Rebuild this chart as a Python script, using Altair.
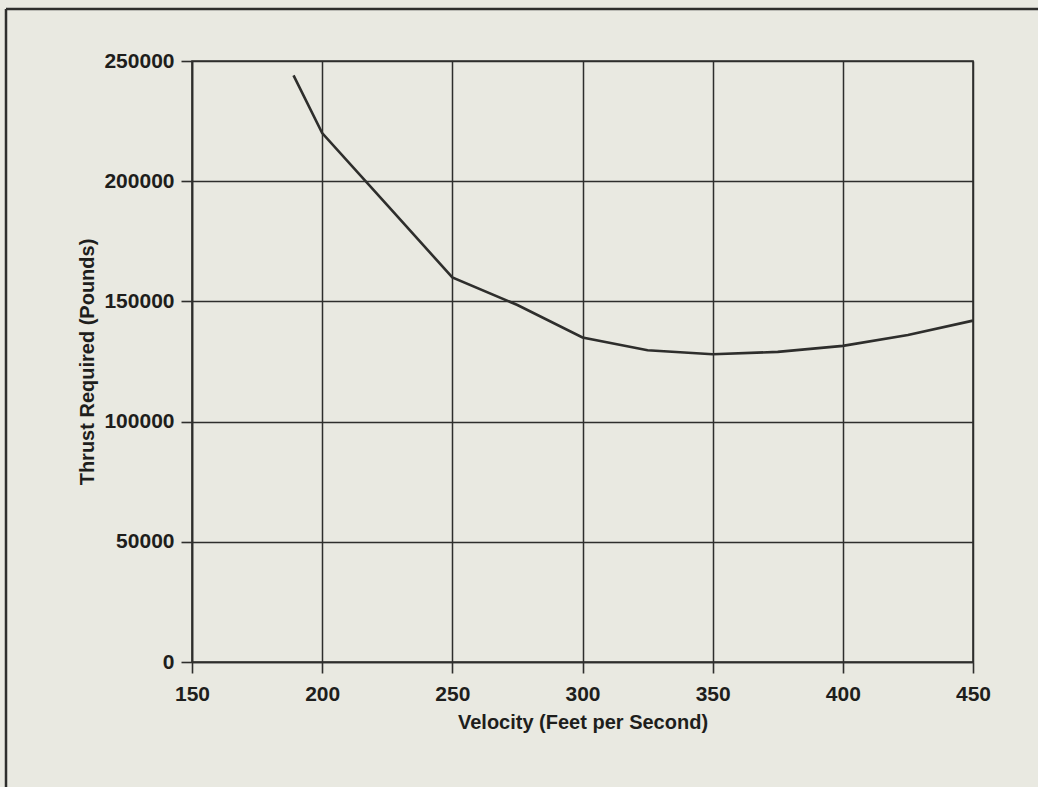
import altair as alt
import pandas as pd

# Thrust required vs. velocity
velocity = [189, 200, 225, 250, 275, 300, 325, 350, 375, 400, 425, 450]
thrust = [244000, 220000, 190000, 160000, 148500, 135000, 129700, 128000, 129000, 131500, 136000, 142000]

x_ticks = [150, 200, 250, 300, 350, 400, 450]
y_ticks = [0, 50000, 100000, 150000, 200000, 250000]

df = pd.DataFrame({"velocity": velocity, "thrust": thrust})

INK = "#2e2e2c"
TEXT = "#1e1e1c"
FONT = "Liberation Sans"

curve = alt.Chart(df).mark_line(color=INK, strokeWidth=2.6).encode(
    x=alt.X(
        "velocity:Q",
        scale=alt.Scale(domain=[150, 450], nice=False, zero=False),
        axis=alt.Axis(
            values=x_ticks,
            title="Velocity (Feet per Second)",
            format="d",
        ),
    ),
    y=alt.Y(
        "thrust:Q",
        scale=alt.Scale(domain=[0, 250000], nice=False),
        axis=alt.Axis(
            values=y_ticks,
            title="Thrust Required (Pounds)",
            format="d",
        ),
    ),
)

# page frame (left and top edges)
frame = alt.Data(values=[{}])
left_edge = alt.Chart(frame).mark_rule(color=INK, strokeWidth=2.5).encode(
    x=alt.value(-186), y=alt.value(-52), y2=alt.value(740)
)
top_edge = alt.Chart(frame).mark_rule(color=INK, strokeWidth=2.5).encode(
    x=alt.value(-186), x2=alt.value(860), y=alt.value(-52)
)

chart = (
    alt.layer(curve, left_edge, top_edge)
    .properties(
        width=781,
        height=601,
        autosize=alt.AutoSizeParams(type="none"),
        padding={"left": 192, "top": 61, "right": 65, "bottom": 125},
        background="#e9e9e1",
    )
    .configure_view(stroke=INK, strokeWidth=1.6)
    .configure_axis(
        grid=True,
        gridColor=INK,
        gridWidth=1.5,
        gridOpacity=1,
        domainColor=INK,
        domainWidth=1.6,
        tickColor=INK,
        tickWidth=1.6,
        tickSize=11,
        labelFlush=False,
        labelFont=FONT,
        labelFontSize=21,
        labelFontWeight="bold",
        labelColor=TEXT,
        titleFont=FONT,
        titleFontSize=20,
        titleFontWeight="bold",
        titleColor=TEXT,
    )
    .configure_axisX(labelPadding=10, titlePadding=8)
    .configure_axisY(labelPadding=7, titlePadding=6)
)

chart.save("out.html", embed_options={"renderer": "svg", "actions": False})
